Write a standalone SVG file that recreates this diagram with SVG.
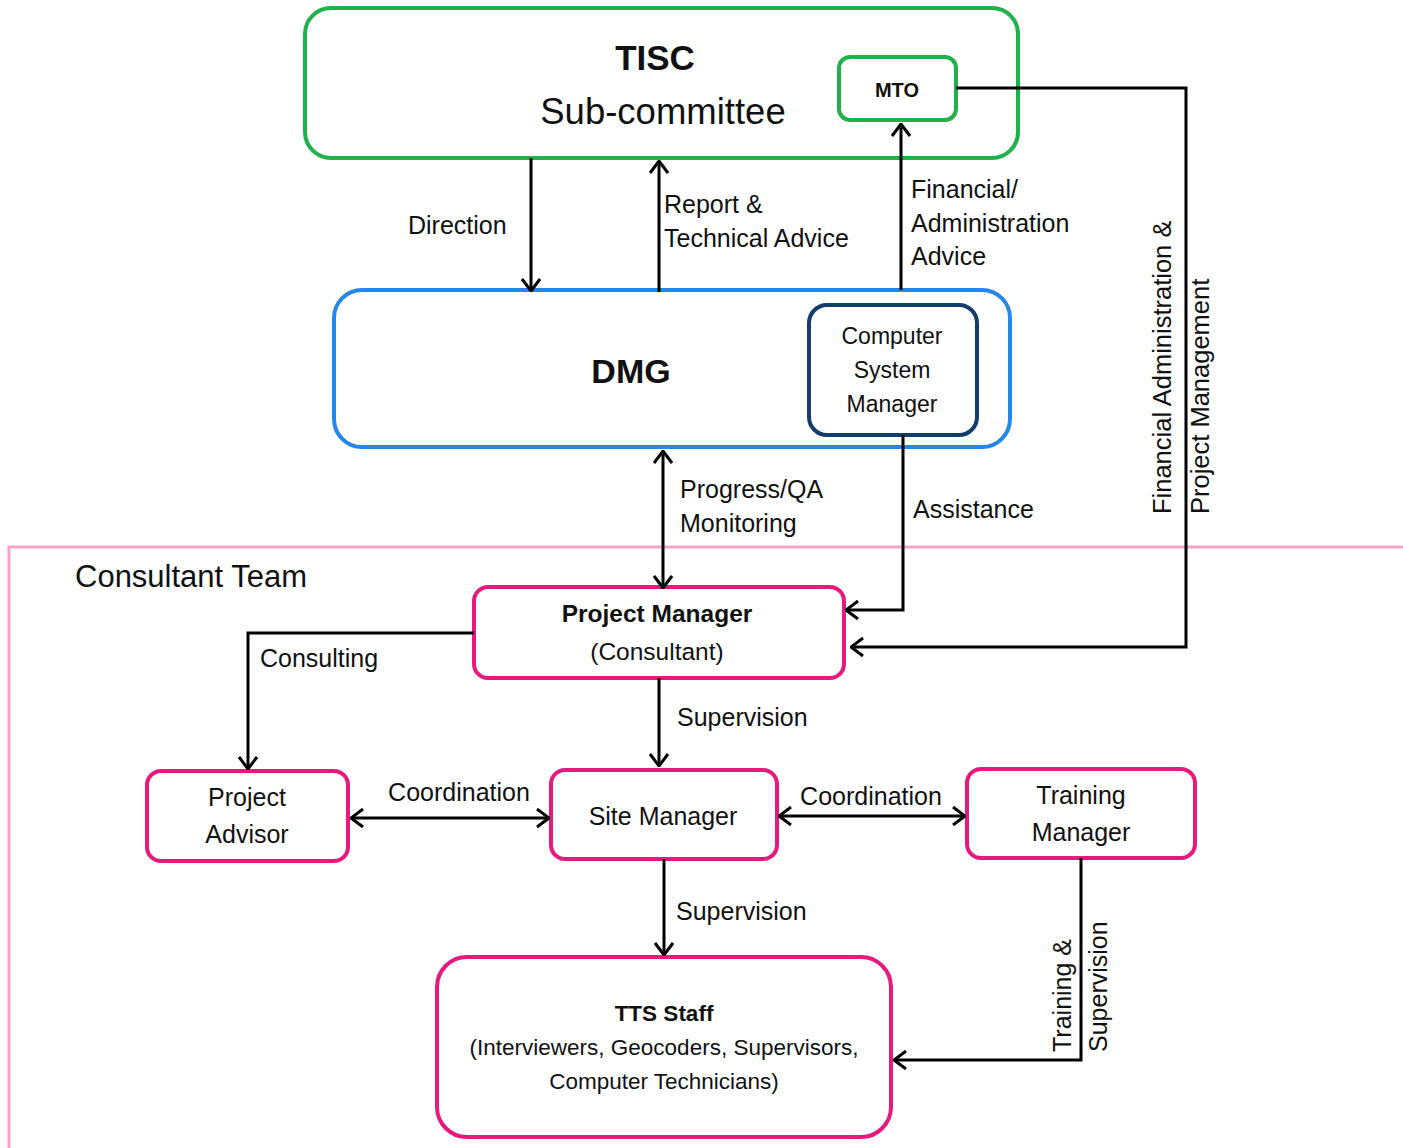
<svg xmlns="http://www.w3.org/2000/svg" width="1403" height="1148" viewBox="0 0 1403 1148">
<defs>
<style>
text{font-family:"Liberation Sans",Arial,sans-serif;fill:#111}
.lbl{font-size:25px}
.node{fill:#fff;stroke-width:4}
.g{stroke:#1FB24A}
.b{stroke:#2388E8}
.n{stroke:#153D6B}
.p{stroke:#E8197C}
.c{fill:none;stroke:#000;stroke-width:3}
.ctr{text-anchor:middle}
.bold{font-weight:bold}
</style>
<marker id="ah" viewBox="0 0 14 20" refX="13" refY="10" markerWidth="14" markerHeight="20" markerUnits="userSpaceOnUse" orient="auto-start-reverse">
<path d="M1,1 L13,10 L1,19" fill="none" stroke="#000" stroke-width="3"/>
</marker>
</defs>
<rect width="1403" height="1148" fill="#fff"/>
<g id="consultant-team">
<path d="M1403,547 L9,547 L9,1148" fill="none" stroke="#F5A3C9" stroke-width="3"/>
<text x="75" y="587" style="font-size:31px">Consultant Team</text>
</g>
<g id="tisc">
<rect class="node g" x="305" y="8" width="713" height="150" rx="26"/>
<text class="ctr bold" x="655" y="70" style="font-size:35px">TISC</text>
<text class="ctr" x="663" y="124" style="font-size:36.5px">Sub-committee</text>
</g>
<g id="mto">
<rect class="node g" x="839" y="57" width="117" height="63" rx="11"/>
<text class="ctr bold" x="897" y="97" style="font-size:20px">MTO</text>
</g>
<g id="dmg">
<rect class="node b" x="334" y="290" width="676" height="157" rx="28"/>
<text class="ctr bold" x="631" y="383" style="font-size:34px">DMG</text>
</g>
<g id="csm">
<rect class="node n" x="809" y="305" width="168" height="130" rx="18"/>
<text class="ctr" x="892" y="344" style="font-size:23px">Computer</text>
<text class="ctr" x="892" y="378" style="font-size:23px">System</text>
<text class="ctr" x="892" y="412" style="font-size:23px">Manager</text>
</g>
<g id="project-manager">
<rect class="node p" x="474" y="587" width="370" height="91" rx="14"/>
<text class="ctr bold" x="657" y="622" style="font-size:24.5px">Project Manager</text>
<text class="ctr" x="657" y="660" style="font-size:24.5px">(Consultant)</text>
</g>
<g id="project-advisor">
<rect class="node p" x="147" y="771" width="201" height="90" rx="14"/>
<text class="ctr lbl" x="247" y="806">Project</text>
<text class="ctr lbl" x="247" y="843">Advisor</text>
</g>
<g id="site-manager">
<rect class="node p" x="551" y="770" width="226" height="89" rx="14"/>
<text class="ctr lbl" x="663" y="825">Site Manager</text>
</g>
<g id="training-manager">
<rect class="node p" x="967" y="769" width="228" height="89" rx="14"/>
<text class="ctr lbl" x="1081" y="804">Training</text>
<text class="ctr lbl" x="1081" y="841">Manager</text>
</g>
<g id="tts-staff">
<rect class="node p" x="437" y="957" width="454" height="180" rx="30"/>
<text class="ctr bold" x="664" y="1021" style="font-size:22.5px">TTS Staff</text>
<text class="ctr" x="664" y="1055" style="font-size:22.5px">(Interviewers, Geocoders, Supervisors,</text>
<text class="ctr" x="664" y="1089" style="font-size:22.5px">Computer Technicians)</text>
</g>
<g id="connectors">
<path class="c" d="M531,158 L531,291" marker-end="url(#ah)"/>
<path class="c" d="M659,292 L659,161" marker-end="url(#ah)"/>
<path class="c" d="M901,290 L901,124" marker-end="url(#ah)"/>
<path class="c" d="M663,451 L663,588" marker-start="url(#ah)" marker-end="url(#ah)"/>
<path class="c" d="M903,435 L903,610 L846,610" marker-end="url(#ah)"/>
<path class="c" d="M956,88 L1186,88 L1186,647 L851,647" marker-end="url(#ah)"/>
<path class="c" d="M474,633 L248,633 L248,769" marker-end="url(#ah)"/>
<path class="c" d="M659,678 L659,766" marker-end="url(#ah)"/>
<path class="c" d="M351,818 L549,818" marker-start="url(#ah)" marker-end="url(#ah)"/>
<path class="c" d="M779,816 L965,816" marker-start="url(#ah)" marker-end="url(#ah)"/>
<path class="c" d="M664,859 L664,955" marker-end="url(#ah)"/>
<path class="c" d="M1081,858 L1081,1060 L894,1060" marker-end="url(#ah)"/>
<text class="lbl" x="408" y="234">Direction</text>
<text class="lbl" x="664" y="213">Report &amp;</text>
<text class="lbl" x="664" y="247">Technical Advice</text>
<text class="lbl" x="911" y="198">Financial/</text>
<text class="lbl" x="911" y="232">Administration</text>
<text class="lbl" x="911" y="265">Advice</text>
<text class="lbl" x="680" y="498">Progress/QA</text>
<text class="lbl" x="680" y="532">Monitoring</text>
<text class="lbl" x="913" y="518">Assistance</text>
<text transform="translate(1171,514) rotate(-90)" style="font-size:25.5px">Financial Administration &amp;</text>
<text transform="translate(1209,514) rotate(-90)" style="font-size:25.5px">Project Management</text>
<text class="lbl" x="260" y="667">Consulting</text>
<text class="lbl" x="677" y="726">Supervision</text>
<text class="lbl ctr" x="459" y="801">Coordination</text>
<text class="lbl ctr" x="871" y="805">Coordination</text>
<text class="lbl" x="676" y="920">Supervision</text>
<text class="lbl" transform="translate(1071,1052) rotate(-90)">Training &amp;</text>
<text class="lbl" transform="translate(1107,1052) rotate(-90)">Supervision</text>
</g>
</svg>
